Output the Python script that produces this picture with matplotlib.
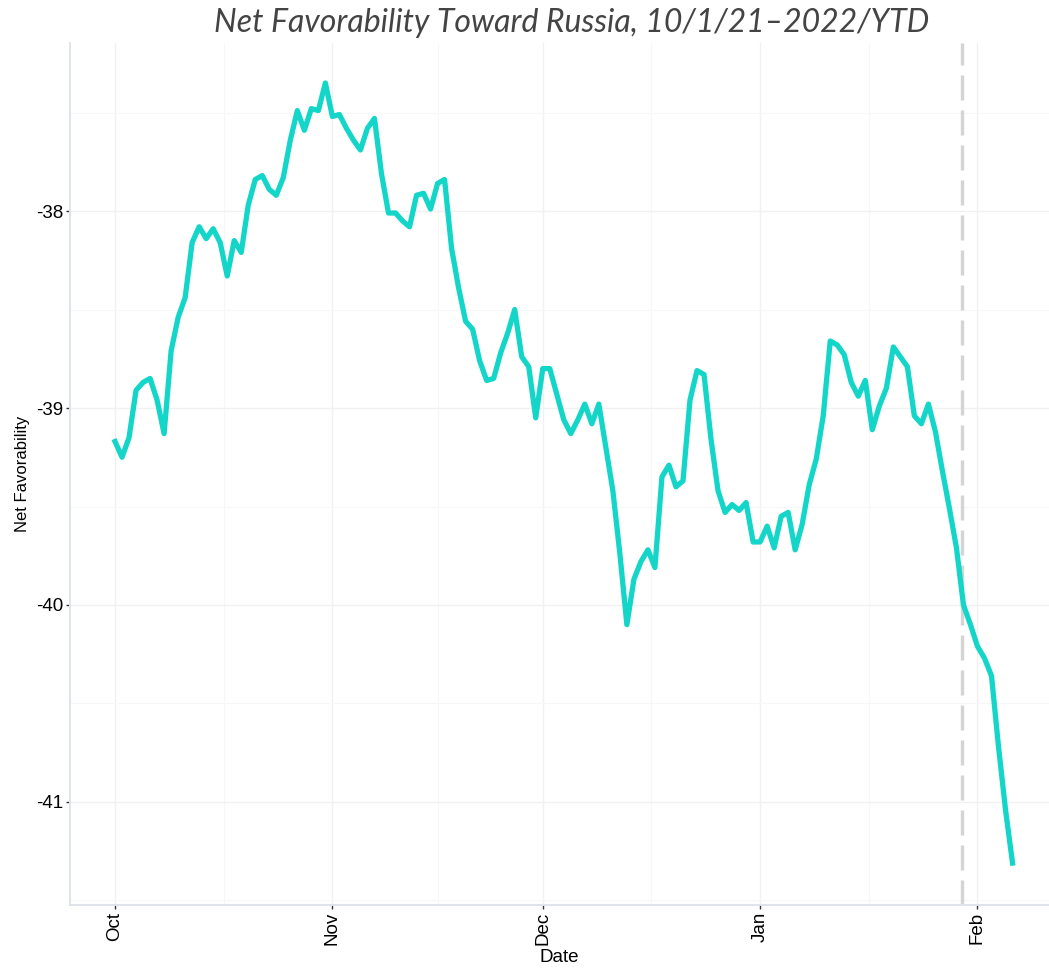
import matplotlib
matplotlib.use('Agg')
import matplotlib.pyplot as plt
import matplotlib.dates as mdates
import numpy as np
import pandas as pd

plt.rcParams['axes.unicode_minus'] = False

# daily net favorability from 10/1/21
start_date = '2021-10-01'
net_fav = [
    -39.17, -39.25, -39.15, -38.91, -38.87, -38.85, -38.96, -39.13, -38.71, -38.54,
    -38.44, -38.16, -38.08, -38.14, -38.09, -38.16, -38.33, -38.15, -38.21, -37.97,
    -37.84, -37.82, -37.89, -37.92, -37.83, -37.64, -37.49, -37.59, -37.48, -37.49,
    -37.35, -37.52, -37.51, -37.58, -37.64, -37.69, -37.58, -37.53, -37.81, -38.01,
    -38.01, -38.05, -38.08, -37.92, -37.91, -37.99, -37.86, -37.84, -38.19, -38.39,
    -38.56, -38.60, -38.76, -38.86, -38.85, -38.72, -38.62, -38.50, -38.74, -38.79,
    -39.05, -38.80, -38.80, -38.93, -39.06, -39.13, -39.06, -38.98, -39.08, -38.98,
    -39.20, -39.42, -39.74, -40.10, -39.87, -39.78, -39.72, -39.81, -39.35, -39.29,
    -39.40, -39.37, -38.96, -38.81, -38.83, -39.16, -39.42, -39.53, -39.49, -39.52,
    -39.48, -39.68, -39.68, -39.60, -39.71, -39.55, -39.53, -39.72, -39.59, -39.39,
    -39.26, -39.04, -38.66, -38.68, -38.73, -38.87, -38.94, -38.86, -39.11, -38.99,
    -38.90, -38.69, -38.74, -38.79, -39.04, -39.08, -38.98, -39.12, -39.32, -39.51,
    -39.71, -40.00, -40.10, -40.21, -40.27, -40.36, -40.72, -41.04, -41.31,
]
dates = pd.date_range(start_date, periods=len(net_fav), freq='D')

event_date = pd.Timestamp('2022-01-29 20:00')  # dashed marker
month_ticks = pd.to_datetime(['2021-10-01', '2021-11-01', '2021-12-01', '2022-01-01', '2022-02-01'])
y_ticks = [-38, -39, -40, -41]

fig = plt.figure(figsize=(10.49, 9.69), dpi=100)
ax = fig.add_axes([70 / 1049, 64 / 969, 979 / 1049, 862 / 969])

ax.plot(dates, net_fav, color='#13d6c9', linewidth=3.8, solid_joinstyle='round', zorder=3)
ax.axvline(event_date, color='#d4d4d4', linewidth=2.4, linestyle=(0, (7.5, 3)), zorder=2)

# ggplot-ish grid
mt = mdates.date2num(month_ticks)
minor_x = (mt[:-1] + mt[1:]) / 2
ax.set_xticks(mt)
ax.set_xticks(minor_x, minor=True)
ax.xaxis.set_major_formatter(mdates.DateFormatter('%b'))
ax.set_yticks(y_ticks)
ax.set_yticks([-37.5, -38.5, -39.5, -40.5, -41.5], minor=True)
ax.grid(which='major', color='#f1f1f1', linewidth=1.0, zorder=0)
ax.grid(which='minor', color='#f7f7f7', linewidth=0.8, zorder=0)

d0 = mdates.date2num(pd.Timestamp(start_date))
ax.set_xlim(d0 - 6.42, d0 + 133.2)
ax.set_ylim(-41.523, -37.147)

for s in ['top', 'right']:
    ax.spines[s].set_visible(False)
for s in ['left', 'bottom']:
    ax.spines[s].set_color('#dfe4ea')
    ax.spines[s].set_linewidth(1.4)

ax.tick_params(which='major', length=3, width=1, color='#333333', labelsize=13.5,
               labelcolor='black', pad=2)
ax.tick_params(which='minor', length=0)
plt.setp(ax.get_xticklabels(), rotation=90, family='Liberation Sans')
plt.setp(ax.get_yticklabels(), family='Liberation Sans')

ax.set_xlabel('Date', fontsize=13.5, family='Liberation Sans', labelpad=3)
ax.set_ylabel('Net Favorability', fontsize=12, family='Liberation Sans', labelpad=4)

fig.text(572 / 1049, 1 - 23 / 969, 'Net Favorability Toward Russia, 10/1/21\u20132022/YTD',
         ha='center', va='center', fontsize=23, style='italic',
         family='Lato', color='#444444')

fig.savefig('out.png', dpi=100)
